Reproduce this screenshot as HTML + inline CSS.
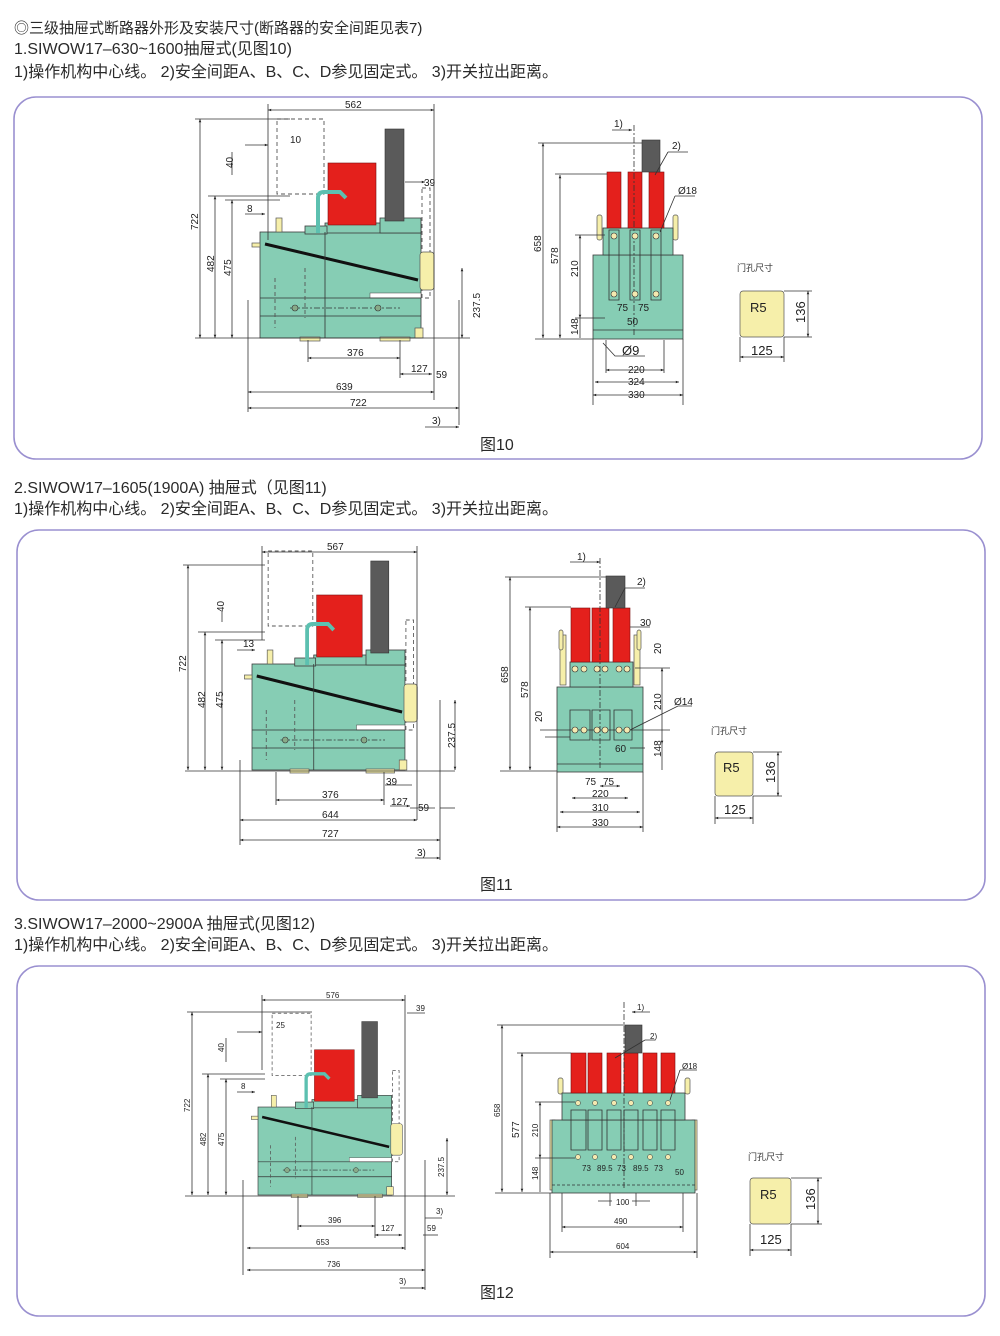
<!DOCTYPE html>
<html><head><meta charset="utf-8"><style>
html,body{margin:0;padding:0;background:#fff;}
svg{display:block;}
.t{font-family:"Liberation Sans","Noto Sans CJK SC",sans-serif;fill:#2a2a2a;font-size:16px;}
.d{font-family:"Liberation Sans",sans-serif;fill:#222;font-size:10px;}
.db{font-family:"Liberation Sans",sans-serif;fill:#222;font-size:13px;}
.c{font-family:"Liberation Sans","Noto Sans CJK SC",sans-serif;fill:#333;font-size:9px;}
.ln{stroke:#333;stroke-width:0.8;fill:none;}
.ds{stroke:#555;stroke-width:0.9;fill:none;stroke-dasharray:4 3;}
.tl{fill:#86cdb4;stroke:#3a3a3a;stroke-width:0.8;}
.rd{fill:#e4201c;stroke:#7a1010;stroke-width:0.6;}
.gy{fill:#5a5a5a;stroke:#333;stroke-width:0.6;}
.yl{fill:#f6efaa;stroke:#555;stroke-width:0.7;}
.pn{fill:none;stroke:#9a90d0;stroke-width:1.6;}
</style></head><body>
<svg width="1000" height="1336" viewBox="0 0 1000 1336" xmlns="http://www.w3.org/2000/svg">
<defs>
<marker id="a" viewBox="0 0 10 10" refX="10" refY="5" markerWidth="6" markerHeight="4" orient="auto-start-reverse"><path d="M0,1 L10,5 L0,9 z" fill="#222"/></marker>
<g id="side">
  <rect class="ds" x="17" y="-219" width="47" height="75"/>
  <rect class="ds" x="162" y="-150" width="8" height="110"/>
  <rect class="tl" x="0" y="-106" width="161" height="106"/>
  <rect class="tl" x="65" y="-115" width="96" height="10"/>
  <rect class="tl" x="120" y="-120" width="41" height="15"/>
  <rect class="tl" x="45" y="-112" width="22" height="8"/>
  <rect class="yl" x="16" y="-120" width="6" height="14"/>
  <rect class="yl" x="-8" y="-95" width="8" height="4"/>
  <rect class="rd" x="68" y="-175" width="48" height="62"/>
  <rect class="gy" x="125" y="-209" width="19" height="92"/>
  <path d="M58,-105 L58,-140 Q58,-146 64,-146 L80,-146 L86,-140" fill="none" stroke="#5cc0b0" stroke-width="4"/>
  <path d="M5,-94 L158,-58" stroke="#111" stroke-width="3"/>
  <rect class="yl" x="160" y="-86" width="14" height="38" rx="3"/>
  <rect x="110" y="-45" width="51" height="5" fill="#fff" stroke="#444" stroke-width="0.5"/>
  <path class="ln" d="M0,-40 H161 M0,-22 H161 M65,-106 V0"/>
  <path d="M30,-30 H140" stroke="#333" stroke-width="0.7" stroke-dasharray="6 2 2 2"/>
  <circle cx="35" cy="-30" r="3" fill="#8a8" stroke="#333" stroke-width="0.6"/>
  <circle cx="118" cy="-30" r="3" fill="#8a8" stroke="#333" stroke-width="0.6"/>
  <rect class="yl" x="40" y="-1" width="20" height="4"/>
  <rect class="yl" x="120" y="-1" width="30" height="4"/>
  <rect class="yl" x="155" y="-10" width="8" height="10"/>
  <path class="ds" d="M15,-60 V-10 M45,-70 V-20"/>
</g>
</defs>

<text class="t" x="14" y="33" style="font-size:15px">◎三级抽屉式断路器外形及安装尺寸(断路器的安全间距见表7)</text>
<text class="t" x="14" y="54">1.SIWOW17–630~1600抽屉式(见图10)</text>
<text class="t" x="14" y="77">1)操作机构中心线。 2)安全间距A、B、C、D参见固定式。 3)开关拉出距离。</text>
<rect class="pn" x="14" y="97" width="968" height="362" rx="22"/>

<text class="t" x="14" y="493">2.SIWOW17–1605(1900A) 抽屉式（见图11)</text>
<text class="t" x="14" y="514">1)操作机构中心线。 2)安全间距A、B、C、D参见固定式。 3)开关拉出距离。</text>
<rect class="pn" x="17" y="530" width="968" height="370" rx="22"/>

<text class="t" x="14" y="929">3.SIWOW17–2000~2900A 抽屉式(见图12)</text>
<text class="t" x="14" y="950">1)操作机构中心线。 2)安全间距A、B、C、D参见固定式。 3)开关拉出距离。</text>
<rect class="pn" x="17" y="966" width="968" height="350" rx="22"/>

<!-- FIG 10 side -->
<use href="#side" transform="translate(260,338)"/>
<g class="ln">
<path d="M268,110 H434" marker-start="url(#a)" marker-end="url(#a)"/>
<path d="M268,104 V240 M434,104 V400 M459,300 V425"/>
<path d="M200,119 V338" marker-start="url(#a)" marker-end="url(#a)"/>
<path d="M215,196 V338" marker-start="url(#a)" marker-end="url(#a)"/>
<path d="M232,200 V338" marker-start="url(#a)" marker-end="url(#a)"/>
<path d="M195,119 H290 M208,196 H290 M225,200 H280 M195,338 H470"/>
<path d="M462,268 V338" marker-start="url(#a)" marker-end="url(#a)"/>
<path d="M308,358 H400" marker-start="url(#a)" marker-end="url(#a)"/>
<path d="M308,340 V362 M400,340 V378"/>
<path d="M400,374 H432" marker-start="url(#a)" marker-end="url(#a)"/>
<path d="M248,392 H434" marker-start="url(#a)" marker-end="url(#a)"/>
<path d="M248,408 H459" marker-start="url(#a)" marker-end="url(#a)"/>
<path d="M248,300 V412"/>
<path d="M425,427 H459" marker-end="url(#a)"/>
<path d="M245,145 H268" marker-end="url(#a)"/>
<path d="M232,175 V152"/>
<path d="M245,214 H265" marker-end="url(#a)"/>
<path d="M405,182 H425" marker-end="url(#a)"/>
</g>
<text class="d" x="345" y="108">562</text>
<text class="d" x="290" y="143">10</text>
<text class="d" x="247" y="212">8</text>
<text class="d" x="424" y="186">39</text>
<text class="d" transform="translate(233,168) rotate(-90)">40</text>
<text class="d" transform="translate(198,230) rotate(-90)">722</text>
<text class="d" transform="translate(214,272) rotate(-90)">482</text>
<text class="d" transform="translate(231,276) rotate(-90)">475</text>
<text class="d" transform="translate(480,318) rotate(-90)">237.5</text>
<text class="d" x="347" y="356">376</text>
<text class="d" x="411" y="372">127</text>
<text class="d" x="436" y="378">59</text>
<text class="d" x="336" y="390">639</text>
<text class="d" x="350" y="406">722</text>
<text class="d" x="432" y="424">3)</text>

<!-- FIG 10 front -->
<rect class="yl" x="597" y="215" width="5" height="25" rx="2"/>
<rect class="yl" x="673" y="215" width="5" height="25" rx="2"/>
<rect class="tl" x="593" y="255" width="90" height="84"/>
<rect class="tl" x="603" y="228" width="70" height="27"/>
<rect class="rd" x="607" y="172" width="14" height="56"/>
<rect class="rd" x="628" y="172" width="14" height="56"/>
<rect class="rd" x="649" y="172" width="15" height="56"/>
<rect class="gy" x="642" y="140" width="18" height="32"/>
<g class="ln">
<path d="M609,230 H619 V300 H609 Z M630,230 H640 V300 H630 Z M651,230 H661 V300 H651 Z"/>
<path d="M593,330 H683"/>
<path d="M543,143 V338" marker-start="url(#a)" marker-end="url(#a)"/>
<path d="M560,175 V338" marker-start="url(#a)" marker-end="url(#a)"/>
<path d="M580,235 V318" marker-start="url(#a)" marker-end="url(#a)"/>
<path d="M580,318 V338"/>
<path d="M538,143 H642 M555,174 H607 M575,235 H605 M575,318 H605 M535,339 H593"/>
<path d="M606,370 H664" marker-start="url(#a)" marker-end="url(#a)"/>
<path d="M595,382 H679" marker-start="url(#a)" marker-end="url(#a)"/>
<path d="M593,395 H683" marker-start="url(#a)" marker-end="url(#a)"/>
<path d="M593,339 V405 M683,339 V405 M606,340 V373 M664,340 V373"/>
<path d="M603,343 L615,356 H645"/>
<path d="M612,130 H632" marker-end="url(#a)"/>
<path d="M634,125 V335" stroke-dasharray="6 2 2 2"/>
<path d="M668,152 H688 M668,152 L655,175"/>
<path d="M675,196 H695 M675,196 L660,232"/>
</g>
<g fill="#f4e9b0" stroke="#333" stroke-width="0.6">
<circle cx="614" cy="236" r="3"/><circle cx="635" cy="236" r="3"/><circle cx="656" cy="236" r="3"/>
<circle cx="614" cy="294" r="3"/><circle cx="635" cy="294" r="3"/><circle cx="656" cy="294" r="3"/>
</g>
<text class="d" x="614" y="127">1)</text>
<text class="d" x="672" y="149">2)</text>
<text class="d" x="678" y="194">Ø18</text>
<text class="d" transform="translate(541,252) rotate(-90)">658</text>
<text class="d" transform="translate(558,264) rotate(-90)">578</text>
<text class="d" transform="translate(578,277) rotate(-90)">210</text>
<text class="d" transform="translate(578,335) rotate(-90)">148</text>
<text class="d" x="617" y="311">75</text>
<text class="d" x="638" y="311">75</text>
<text class="d" x="627" y="325">50</text>
<text class="db" x="622" y="355">Ø9</text>
<text class="d" x="628" y="373">220</text>
<text class="d" x="628" y="385">324</text>
<text class="d" x="628" y="398">330</text>
<text class="c" x="737" y="271">门孔尺寸</text>
<rect class="yl" x="740" y="291" width="44" height="46" rx="3"/>
<text class="db" x="750" y="312">R5</text>
<g class="ln"><path d="M784,291 H812 M784,337 H812 M740,337 V362 M784,337 V362"/>
<path d="M808,291 V337" marker-start="url(#a)" marker-end="url(#a)"/>
<path d="M740,357 H784" marker-start="url(#a)" marker-end="url(#a)"/></g>
<text class="db" transform="translate(805,323) rotate(-90)">136</text>
<text class="db" x="751" y="355">125</text>
<text class="t" x="480" y="450">图10</text>

<!-- FIG 11 side -->
<use href="#side" transform="translate(252,770) scale(0.95,1.0)"/>
<g class="ln">
<path d="M262,552 H417" marker-start="url(#a)" marker-end="url(#a)"/>
<path d="M262,546 V640 M417,546 V820 M440,700 V860"/>
<path d="M188,565 V770" marker-start="url(#a)" marker-end="url(#a)"/>
<path d="M205,632 V770" marker-start="url(#a)" marker-end="url(#a)"/>
<path d="M222,640 V770" marker-start="url(#a)" marker-end="url(#a)"/>
<path d="M183,565 H265 M198,632 H265 M215,640 H265 M185,771 H455"/>
<path d="M222,612 V622"/>
<path d="M237,650 H255" marker-end="url(#a)"/>
<path d="M455,700 V770" marker-start="url(#a)" marker-end="url(#a)"/>
<path d="M276,800 H384" marker-start="url(#a)" marker-end="url(#a)"/>
<path d="M276,772 V805 M384,772 V805"/>
<path d="M385,785 H412 M410,808 H435"/>
<path d="M390,806 H410" marker-end="url(#a)"/>
<path d="M440,808 H455"/>
<path d="M240,820 H417" marker-start="url(#a)" marker-end="url(#a)"/>
<path d="M240,840 H440" marker-start="url(#a)" marker-end="url(#a)"/>
<path d="M240,760 V845"/>
<path d="M415,858 H440" marker-end="url(#a)"/>
</g>
<text class="d" x="327" y="550">567</text>
<text class="d" x="243" y="647">13</text>
<text class="d" transform="translate(224,612) rotate(-90)">40</text>
<text class="d" transform="translate(186,672) rotate(-90)">722</text>
<text class="d" transform="translate(205,708) rotate(-90)">482</text>
<text class="d" transform="translate(223,708) rotate(-90)">475</text>
<text class="d" transform="translate(455,748) rotate(-90)">237.5</text>
<text class="d" x="386" y="785">39</text>
<text class="d" x="322" y="798">376</text>
<text class="d" x="391" y="805">127</text>
<text class="d" x="418" y="811">59</text>
<text class="d" x="322" y="818">644</text>
<text class="d" x="322" y="837">727</text>
<text class="d" x="417" y="856">3)</text>

<!-- FIG 11 front -->
<rect class="yl" x="560" y="635" width="6" height="50" />
<rect class="yl" x="634" y="635" width="6" height="50" />
<rect class="yl" x="559" y="630" width="4" height="20" rx="2"/>
<rect class="yl" x="637" y="630" width="4" height="20" rx="2"/>
<rect class="tl" x="557" y="687" width="86" height="85"/>
<rect class="tl" x="570" y="662" width="63" height="25"/>
<rect class="rd" x="571" y="608" width="19" height="54"/>
<rect class="rd" x="592" y="608" width="17" height="54"/>
<rect class="rd" x="613" y="608" width="17" height="54"/>
<rect class="gy" x="606" y="576" width="19" height="32"/>
<g class="ln">
<path d="M570,710 H590 V740 H570 Z M592,710 H610 V740 H592 Z M614,710 H632 V740 H614 Z"/>
<path d="M557,764 H643"/>
<path d="M510,577 V770" marker-start="url(#a)" marker-end="url(#a)"/>
<path d="M530,607 V770" marker-start="url(#a)" marker-end="url(#a)"/>
<path d="M505,577 H606 M525,607 H571 M500,771 H557"/>
<path d="M662,668 V744" marker-start="url(#a)" marker-end="url(#a)"/>
<path d="M662,744 V770"/>
<path d="M635,668 H670 M540,730 H670 M545,737 H570"/>
<path d="M600,786 H620" marker-start="url(#a)" marker-end="url(#a)"/>
<path d="M572,798 H628" marker-start="url(#a)" marker-end="url(#a)"/>
<path d="M560,812 H640" marker-start="url(#a)" marker-end="url(#a)"/>
<path d="M557,827 H643" marker-start="url(#a)" marker-end="url(#a)"/>
<path d="M557,772 V832 M643,772 V832"/>
<path d="M570,562 H600" marker-end="url(#a)"/>
<path d="M600,558 V770" stroke-dasharray="6 2 2 2"/>
<path d="M625,588 H645 M625,588 L615,607"/>
<path d="M678,706 H692 M678,706 L630,730"/>
<path d="M630,627 H650"/>
<path d="M630,748 H645"/>
</g>
<g fill="#f4e9b0" stroke="#333" stroke-width="0.6">
<circle cx="575" cy="669" r="3"/><circle cx="584" cy="669" r="3"/><circle cx="597" cy="669" r="3"/><circle cx="605" cy="669" r="3"/><circle cx="619" cy="669" r="3"/><circle cx="627" cy="669" r="3"/>
<circle cx="575" cy="730" r="3"/><circle cx="584" cy="730" r="3"/><circle cx="597" cy="730" r="3"/><circle cx="605" cy="730" r="3"/><circle cx="619" cy="730" r="3"/><circle cx="627" cy="730" r="3"/>
</g>
<text class="d" x="577" y="560">1)</text>
<text class="d" x="637" y="585">2)</text>
<text class="d" x="640" y="626">30</text>
<text class="d" transform="translate(661,654) rotate(-90)">20</text>
<text class="d" transform="translate(661,710) rotate(-90)">210</text>
<text class="d" transform="translate(661,757) rotate(-90)">148</text>
<text class="d" x="674" y="705">Ø14</text>
<text class="d" x="615" y="752">60</text>
<text class="d" transform="translate(508,683) rotate(-90)">658</text>
<text class="d" transform="translate(528,698) rotate(-90)">578</text>
<text class="d" transform="translate(542,722) rotate(-90)">20</text>
<text class="d" x="585" y="785">75</text>
<text class="d" x="603" y="785">75</text>
<text class="d" x="592" y="797">220</text>
<text class="d" x="592" y="811">310</text>
<text class="d" x="592" y="826">330</text>
<text class="c" x="711" y="734">门孔尺寸</text>
<rect class="yl" x="715" y="752" width="38" height="44" rx="3"/>
<text class="db" x="723" y="772">R5</text>
<g class="ln"><path d="M753,752 H782 M753,796 H782 M715,796 V824 M753,796 V824"/>
<path d="M778,752 V796" marker-start="url(#a)" marker-end="url(#a)"/>
<path d="M715,818 H753" marker-start="url(#a)" marker-end="url(#a)"/></g>
<text class="db" transform="translate(775,783) rotate(-90)">136</text>
<text class="db" x="724" y="814">125</text>
<text class="t" x="480" y="890">图11</text>

<!-- FIG 12 side -->
<use href="#side" transform="translate(258,1195) scale(0.83)"/>
<g class="ln">
<path d="M262,1000 H405" marker-start="url(#a)" marker-end="url(#a)"/>
<path d="M262,995 V1070 M405,995 V1250 M425,1160 V1290"/>
<path d="M192,1012 V1195" marker-start="url(#a)" marker-end="url(#a)"/>
<path d="M208,1074 V1195" marker-start="url(#a)" marker-end="url(#a)"/>
<path d="M226,1079 V1195" marker-start="url(#a)" marker-end="url(#a)"/>
<path d="M187,1012 H312 M202,1074 H265 M220,1079 H265 M185,1196 H455"/>
<path d="M226,1038 V1062"/>
<path d="M237,1092 H255" marker-end="url(#a)"/>
<path d="M237,1032 H262" marker-end="url(#a)"/>
<path d="M447,1138 V1195" marker-start="url(#a)" marker-end="url(#a)"/>
<path d="M298,1226 H375" marker-start="url(#a)" marker-end="url(#a)"/>
<path d="M298,1196 V1230 M375,1196 V1238"/>
<path d="M375,1235 H402" marker-start="url(#a)" marker-end="url(#a)"/>
<path d="M423,1235 H438"/>
<path d="M247,1248 H405" marker-start="url(#a)" marker-end="url(#a)"/>
<path d="M247,1270 H425" marker-start="url(#a)" marker-end="url(#a)"/>
<path d="M243,1180 V1275"/>
<path d="M425,1218 H442"/>
<path d="M400,1288 H425" marker-end="url(#a)"/>
<path d="M407,1013 H425"/>
</g>
<text class="d" x="326" y="998" style="font-size:8px">576</text>
<text class="d" x="416" y="1011" style="font-size:8px">39</text>
<text class="d" x="276" y="1028" style="font-size:8px">25</text>
<text class="d" x="241" y="1089" style="font-size:8px">8</text>
<text class="d" transform="translate(224,1052) rotate(-90)" style="font-size:8px">40</text>
<text class="d" transform="translate(190,1112) rotate(-90)" style="font-size:8px">722</text>
<text class="d" transform="translate(206,1146) rotate(-90)" style="font-size:8px">482</text>
<text class="d" transform="translate(224,1146) rotate(-90)" style="font-size:8px">475</text>
<text class="d" transform="translate(444,1177) rotate(-90)" style="font-size:8px">237.5</text>
<text class="d" x="436" y="1214" style="font-size:8px">3)</text>
<text class="d" x="328" y="1223" style="font-size:8px">396</text>
<text class="d" x="381" y="1231" style="font-size:8px">127</text>
<text class="d" x="427" y="1231" style="font-size:8px">59</text>
<text class="d" x="316" y="1245" style="font-size:8px">653</text>
<text class="d" x="327" y="1267" style="font-size:8px">736</text>
<text class="d" x="399" y="1284" style="font-size:8px">3)</text>

<!-- FIG 12 front -->
<rect class="yl" x="558" y="1078" width="5" height="16" rx="2"/>
<rect class="yl" x="685" y="1078" width="5" height="16" rx="2"/>
<rect class="yl" x="550" y="1120" width="5" height="70"/>
<rect class="yl" x="692" y="1120" width="5" height="70"/>
<rect class="tl" x="552" y="1120" width="143" height="73"/>
<rect class="tl" x="562" y="1093" width="123" height="27"/>
<rect class="rd" x="571" y="1053" width="15" height="40"/>
<rect class="rd" x="588" y="1053" width="14" height="40"/>
<rect class="rd" x="607" y="1053" width="14" height="40"/>
<rect class="rd" x="624" y="1053" width="14" height="40"/>
<rect class="rd" x="643" y="1053" width="14" height="40"/>
<rect class="rd" x="661" y="1053" width="14" height="40"/>
<rect class="gy" x="625" y="1025" width="17" height="28"/>
<g class="ln">
<path d="M571,1110 H586 V1150 H571 Z M588,1110 H602 V1150 H588 Z M607,1110 H621 V1150 H607 Z M624,1110 H638 V1150 H624 Z M643,1110 H657 V1150 H643 Z M661,1110 H675 V1150 H661 Z"/>
<path d="M552,1185 H695" stroke-dasharray="3 2"/>
<path d="M502,1025 V1192" marker-start="url(#a)" marker-end="url(#a)"/>
<path d="M522,1053 V1192" marker-start="url(#a)" marker-end="url(#a)"/>
<path d="M540,1102 V1158" marker-start="url(#a)" marker-end="url(#a)"/>
<path d="M540,1158 V1192"/>
<path d="M497,1025 H625 M517,1053 H571 M535,1102 H575 M535,1158 H575 M495,1193 H552"/>
<path d="M598,1201 H612 M632,1201 H650"/>
<path d="M562,1227 H683" marker-start="url(#a)" marker-end="url(#a)"/>
<path d="M550,1252 H697" marker-start="url(#a)" marker-end="url(#a)"/>
<path d="M550,1193 V1258 M697,1193 V1258 M562,1193 V1232 M683,1193 V1232 M610,1193 V1206 M636,1193 V1206"/>
<path d="M650,1012 H632" marker-end="url(#a)"/>
<path d="M624,1002 V1190" stroke-dasharray="6 2 2 2"/>
<path d="M645,1040 H655 M645,1040 L615,1058"/>
<path d="M680,1070 H697 M680,1070 L670,1100"/>
</g>
<g fill="#f4e9b0" stroke="#333" stroke-width="0.5">
<circle cx="578" cy="1103" r="2.5"/><circle cx="595" cy="1103" r="2.5"/><circle cx="614" cy="1103" r="2.5"/><circle cx="631" cy="1103" r="2.5"/><circle cx="650" cy="1103" r="2.5"/><circle cx="668" cy="1103" r="2.5"/>
<circle cx="578" cy="1157" r="2.5"/><circle cx="595" cy="1157" r="2.5"/><circle cx="614" cy="1157" r="2.5"/><circle cx="631" cy="1157" r="2.5"/><circle cx="650" cy="1157" r="2.5"/><circle cx="668" cy="1157" r="2.5"/>
</g>
<text class="d" x="637" y="1010" style="font-size:8px">1)</text>
<text class="d" x="650" y="1039" style="font-size:8px">2)</text>
<text class="d" x="682" y="1069" style="font-size:8px">Ø18</text>
<text class="d" transform="translate(500,1117) rotate(-90)" style="font-size:8px">658</text>
<text class="d" transform="translate(519,1138) rotate(-90)">577</text>
<text class="d" transform="translate(538,1137) rotate(-90)" style="font-size:8px">210</text>
<text class="d" transform="translate(538,1180) rotate(-90)" style="font-size:8px">148</text>
<text class="d" x="582" y="1171" style="font-size:8px">73</text>
<text class="d" x="597" y="1171" style="font-size:8px">89.5</text>
<text class="d" x="617" y="1171" style="font-size:8px">73</text>
<text class="d" x="633" y="1171" style="font-size:8px">89.5</text>
<text class="d" x="654" y="1171" style="font-size:8px">73</text>
<text class="d" x="675" y="1175" style="font-size:8px">50</text>
<text class="d" x="616" y="1205" style="font-size:8px">100</text>
<text class="d" x="614" y="1224" style="font-size:8px">490</text>
<text class="d" x="616" y="1249" style="font-size:8px">604</text>
<text class="c" x="748" y="1160">门孔尺寸</text>
<rect class="yl" x="750" y="1178" width="41" height="46" rx="3"/>
<text class="db" x="760" y="1199">R5</text>
<g class="ln"><path d="M791,1178 H822 M791,1224 H822 M750,1224 V1256 M791,1224 V1256"/>
<path d="M818,1178 V1224" marker-start="url(#a)" marker-end="url(#a)"/>
<path d="M750,1250 H791" marker-start="url(#a)" marker-end="url(#a)"/></g>
<text class="db" transform="translate(815,1210) rotate(-90)">136</text>
<text class="db" x="760" y="1244">125</text>
<text class="t" x="480" y="1298">图12</text>
</svg>
</body></html>
